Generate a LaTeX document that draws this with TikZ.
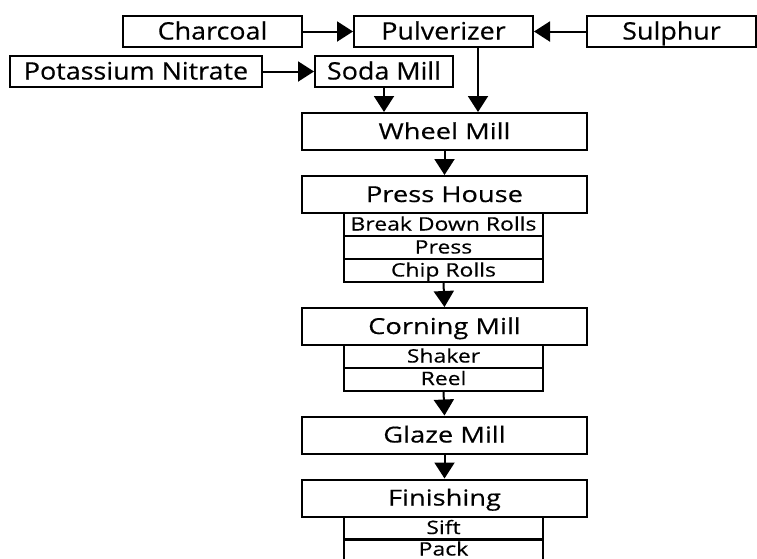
\documentclass[tikz,border=0pt]{standalone}
\usepackage{fontspec}
\setmainfont{Open Sans}
\newfontfamily\rawfont{Open Sans}[FakeStretch=1.12,FakeBold=0.4]
\newfontfamily\stagefont{Open Sans}[FakeStretch=1.24,FakeBold=0.4]
\usetikzlibrary{arrows.meta}

\begin{document}
\begin{tikzpicture}[x=1pt,y=-1pt,
    box/.style={draw,line width=2pt,inner sep=0pt,minimum height=31pt,text height=17pt,text depth=1pt,font=\rawfont\fontsize{24}{24}\selectfont},
    stage/.style={box,minimum width=285pt,minimum height=37pt,text height=16pt,text depth=1pt,font=\stagefont\fontsize{22}{22}\selectfont},
    substep/.style={draw,line width=2pt,inner sep=0pt,minimum width=199pt,minimum height=23pt,text height=13pt,text depth=1pt,font=\stagefont\fontsize{18.5}{18.5}\selectfont},
    flow/.style={line width=2pt,-{Triangle[width=20pt,length=16pt]}}]
      \useasboundingbox (0,0) rectangle (757,558);
      \clip (0,0) rectangle (757,558);

      % Raw materials
      \node[box,minimum width=179pt] (charcoal) at (212.5,31.5) {Charcoal};
      \node[box,minimum width=179pt] (pulv) at (443.5,31.5) {Pulverizer};
      \node[box,minimum width=169pt] (sulphur) at (671.5,31.5) {Sulphur};
      \node[box,minimum width=252pt] (potassium) at (136,71.5) {Potassium Nitrate};
      \node[box,minimum width=138pt] (soda) at (384,71.5) {Soda Mill};

      % Main stages
      \node[stage] (wheel) at (444.5,131.5) {Wheel Mill};
      \node[stage] (press) at (444.5,194.5) {Press House};
      \node[substep] (breakdown) at (443.5,224.5) {Break Down Rolls};
      \node[substep] (pressing) at (443.5,247.5) {Press};
      \node[substep] (chip) at (443.5,270.5) {Chip Rolls};
      \node[stage] (corning) at (444.5,326.5) {Corning Mill};
      \node[substep] (shaker) at (443.5,356.5) {Shaker};
      \node[substep] (reel) at (443.5,379) {Reel};
      \node[stage] (glaze) at (444.5,435) {Glaze Mill};
      \node[stage] (finish) at (444.5,498) {Finishing};
      \node[substep] (sift) at (443.5,528) {Sift};
      \node[substep,minimum height=21pt] (pack) at (443.5,549.5) {Pack};

      % Feeds into the mills
      \draw[flow] (charcoal.east) -- (pulv.west);
      \draw[flow] (sulphur.west) -- (pulv.east);
      \draw[flow] (potassium.east) -- (soda.west);
      \draw[flow] (soda.south) -- (soda.south |- wheel.north);
      \coordinate (pulvout) at ([xshift=34.5pt]pulv.south);
      \draw[flow] (pulvout) -- (pulvout |- wheel.north);

      % Down the line
      \foreach \a/\b in {wheel/press, chip/corning, reel/glaze, glaze/finish} {
          \draw[flow] (\a.south) -- (\b.north);
      }
    \end{tikzpicture}
\end{document}
